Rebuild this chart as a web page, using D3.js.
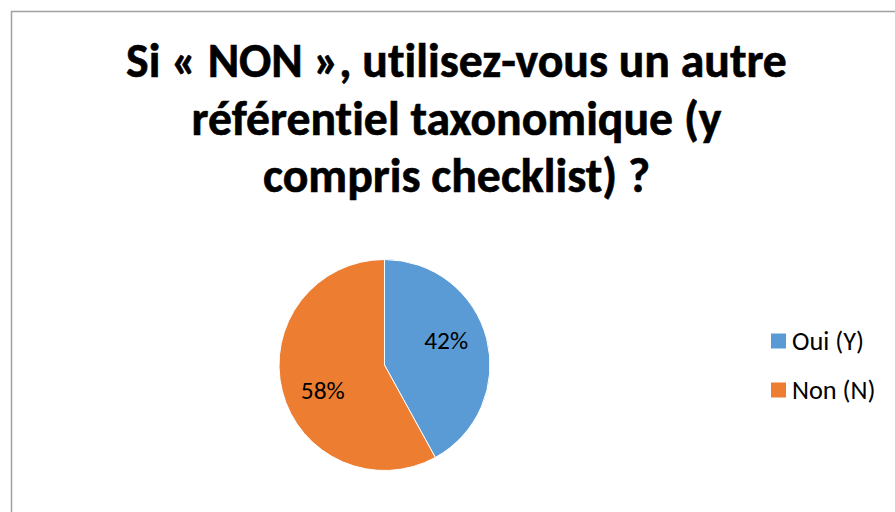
<!DOCTYPE html>
<html>
<head>
<meta charset="utf-8">
<script src="https://cdn.jsdelivr.net/npm/d3@7"></script>
<style>
  html, body { margin: 0; padding: 0; background: #fff; }
  svg { display: block; }
  text { font-family: Carlito, Lato, "Open Sans", sans-serif; font-variant-ligatures: none; font-feature-settings: "liga" 0, "clig" 0; }
</style>
</head>
<body>
<svg id="chart" width="895" height="512"></svg>
<script>
// ---- data ----
const titleLines = ["Si « NON », utilisez-vous un autre", "référentiel taxonomique (y", "compris checklist) ?"];
const categories = ["Oui (Y)", "Non (N)"];
const values = [42, 58];
const colors = ["#5B9BD5", "#ED7D31"];

// ---- layout ----
const W = 895, H = 512;
const svg = d3.select("#chart");

svg.append("rect")
  .attr("x", 11.5).attr("y", 11.5)
  .attr("width", W + 20).attr("height", H + 20)
  .attr("fill", "#fff").attr("stroke", "#a0a0a0").attr("stroke-width", 1.5);

function measure(str, weight, size) {
  const t = svg.append("text").attr("font-size", size).attr("font-weight", weight).text(str);
  const w = t.node().getComputedTextLength();
  t.remove();
  return w;
}
function fitSize(str, weight, target, base) {
  return base * target / measure(str, weight, base);
}

// title
const titleSize = fitSize(titleLines[0], "bold", 661, 40);
const titleCx = 456.5;
const titleBaselines = d3.scaleLinear().domain([0, 2]).range([77, 192]);
svg.append("g").selectAll("text").data(titleLines).join("text")
  .attr("x", titleCx)
  .attr("y", (d, i) => titleBaselines(i))
  .attr("text-anchor", "middle")
  .attr("font-weight", "bold")
  .attr("font-size", titleSize)
  .attr("fill", "#000")
  .attr("stroke", "#000")
  .attr("stroke-width", 0.6)
  .text(d => d);

// pie
const cx = 384.5, cy = 365, r = 105.5;
const pie = d3.pie().sort(null).value(d => d);
const arcs = pie(values);
const arc = d3.arc().innerRadius(0).outerRadius(r);
const g = svg.append("g").attr("transform", `translate(${cx},${cy})`);
g.selectAll("path").data(arcs).join("path")
  .attr("d", arc)
  .attr("fill", (d, i) => colors[i])
  .attr("stroke", "#fff")
  .attr("stroke-width", 1);

const fmt = d3.format(".0%");
const total = d3.sum(values);
const labelSize = fitSize("42%", "normal", 44, 20);
const labelR = r * 0.63;
g.selectAll("text").data(arcs).join("text")
  .attr("transform", d => {
    const a = (d.startAngle + d.endAngle) / 2 - 0.13;
    return `translate(${labelR * Math.sin(a)},${-labelR * Math.cos(a)})`;
  })
  .attr("text-anchor", "middle")
  .attr("dy", "0.35em")
  .attr("font-size", labelSize)
  .attr("fill", "#000")
  .text(d => fmt(d.data / total));

// legend
const legendSize = fitSize(categories[0], "normal", 72, 20);
const legY = d3.scalePoint().domain(categories).range([341, 390]);
const leg = svg.append("g").selectAll("g").data(categories).join("g")
  .attr("transform", d => `translate(771,${legY(d)})`);
leg.append("rect")
  .attr("x", 0).attr("y", -7.5).attr("width", 15).attr("height", 15)
  .attr("fill", (d, i) => colors[i]);
leg.append("text")
  .attr("x", 21).attr("dy", "0.36em")
  .attr("font-size", legendSize)
  .attr("fill", "#000")
  .text(d => d);
</script>
</body>
</html>
